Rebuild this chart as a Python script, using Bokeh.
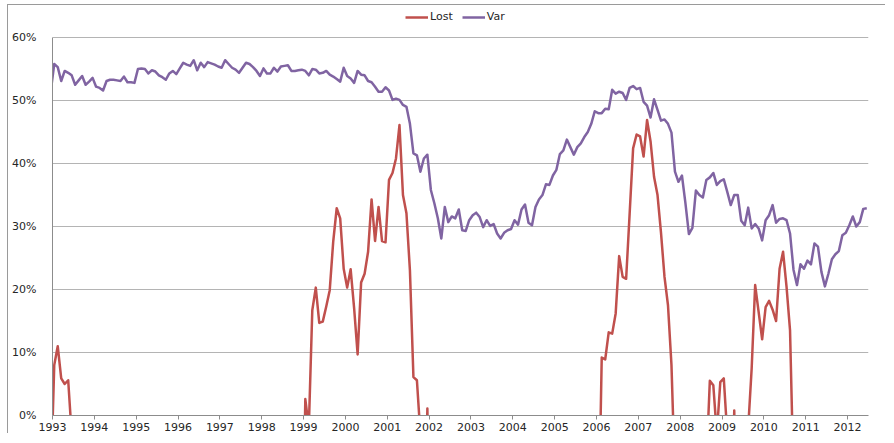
import pandas as pd
from bokeh.plotting import figure
from bokeh.models import (FixedTicker, PrintfTickFormatter, Legend, LegendItem,
                          ColumnDataSource, Range1d)
from bokeh.embed import file_html
from bokeh.resources import INLINE

nan = float("nan")

# monthly observations, Dec 1992 .. Jun 2012 (values in %)
months = pd.period_range("1992-12", "2012-06", freq="M")

var = [
    51.5,
    55.8, 55.3, 53.1, 54.7, 54.4, 54.0, 52.5, 53.2, 53.9, 52.5, 53.0, 53.6,   # 1993
    52.2, 52.0, 51.6, 53.1, 53.3, 53.3, 53.2, 53.1, 53.8, 52.9, 52.9, 52.8,   # 1994
    55.0, 55.1, 55.0, 54.3, 54.8, 54.6, 54.0, 53.7, 53.3, 54.3, 54.7, 54.2,   # 1995
    55.1, 56.0, 55.7, 55.5, 56.4, 54.8, 56.0, 55.3, 56.1, 55.9, 55.7, 55.4,   # 1996
    55.2, 56.4, 55.8, 55.2, 54.9, 54.4, 55.2, 56.0, 55.8, 55.3, 54.7, 53.9,   # 1997
    55.1, 54.3, 54.3, 55.2, 54.6, 55.4, 55.5, 55.6, 54.7, 54.7, 54.8, 54.9,   # 1998
    54.7, 54.0, 55.0, 54.9, 54.3, 54.4, 54.7, 54.1, 53.8, 53.4, 53.0, 55.2,   # 1999
    53.9, 53.5, 52.8, 54.7, 54.1, 54.0, 53.1, 52.9, 52.2, 51.4, 51.4, 52.1,   # 2000
    51.6, 50.1, 50.3, 50.1, 49.3, 49.0, 46.3, 41.6, 41.3, 38.7, 40.8, 41.4,   # 2001
    35.8, 33.7, 31.3, 28.1, 33.1, 30.7, 31.6, 31.3, 32.7, 29.4, 29.3, 31.0,   # 2002
    31.8, 32.2, 31.5, 29.9, 31.0, 30.1, 30.4, 28.9, 28.1, 29.0, 29.4, 29.6,   # 2003
    31.0, 30.3, 32.7, 33.5, 30.6, 30.2, 33.1, 34.3, 35.0, 36.7, 36.6, 38.1,   # 2004
    39.0, 41.5, 42.1, 43.8, 42.6, 41.4, 42.6, 43.2, 44.2, 45.0, 46.3, 48.3,   # 2005
    48.0, 48.0, 48.7, 48.6, 51.7, 51.1, 51.4, 51.2, 50.1, 52.0, 52.3, 51.8,   # 2006
    52.0, 49.8, 49.2, 47.3, 50.2, 48.5, 46.8, 47.0, 46.3, 44.9, 38.7, 37.1,   # 2007
    38.1, 33.7, 28.8, 29.8, 35.7, 35.0, 34.6, 37.4, 37.8, 38.5, 36.6, 37.2,   # 2008
    37.5, 35.5, 33.4, 35.0, 35.0, 30.9, 30.2, 33.0, 29.7, 30.4, 29.7, 27.8,   # 2009
    31.0, 31.8, 33.4, 30.6, 31.2, 31.3, 31.0, 28.9, 23.1, 20.7, 24.0, 23.3,   # 2010
    24.6, 24.0, 27.3, 26.8, 22.8, 20.5, 22.5, 24.8, 25.6, 26.1, 28.6, 29.0,   # 2011
    30.2, 31.6, 30.0, 30.7, 32.8, 32.9,                                       # 2012
]

# values below the axis minimum are not visible in the picture (nan = not readable)
lost = [
    -11.0,
    8.0, 11.0, 5.9, 5.0, 5.6, -3.0, nan, nan, nan, nan, nan, nan,             # 1993
    nan, nan, nan, nan, nan, nan, nan, nan, nan, nan, nan, nan,               # 1994
    nan, nan, nan, nan, nan, nan, nan, nan, nan, nan, nan, nan,               # 1995
    nan, nan, nan, nan, nan, nan, nan, nan, nan, nan, nan, nan,               # 1996
    nan, nan, nan, nan, nan, nan, nan, nan, nan, nan, nan, nan,               # 1997
    nan, nan, nan, nan, nan, nan, nan, nan, nan, nan, nan, -30.0,             # 1998
    2.6, -2.0, 16.7, 20.3, 14.7, 14.9, 17.3, 19.9, 27.6, 32.9, 31.3, 23.3,    # 1999
    20.3, 23.2, 17.0, 9.7, 21.1, 22.5, 26.0, 34.3, 27.7, 33.1, 27.7, 27.5,    # 2000
    37.4, 38.5, 40.8, 46.1, 35.0, 32.1, 23.0, 6.1, 5.6, -3.0, -30.0, 1.1,     # 2001
    -30.0, nan, nan, nan, nan, nan, nan, nan, nan, nan, nan, nan,             # 2002
    nan, nan, nan, nan, nan, nan, nan, nan, nan, nan, nan, nan,               # 2003
    nan, nan, nan, nan, nan, nan, nan, nan, nan, nan, nan, nan,               # 2004
    nan, nan, nan, nan, nan, nan, nan, nan, nan, nan, nan, nan,               # 2005
    -21.0, 9.2, 8.9, 13.2, 13.0, 16.2, 25.3, 22.0, 21.7, 32.0, 42.4, 44.6,    # 2006
    44.3, 41.1, 46.9, 43.5, 37.9, 35.0, 29.0, 22.0, 17.5, 8.0, -10.0, nan,    # 2007
    nan, nan, nan, nan, nan, nan, nan, -8.0, 5.5, 4.8, -3.0, 5.3,             # 2008
    5.9, -3.0, -30.0, 0.8, -30.0, nan, nan, -2.0, 7.5, 20.7, 16.4, 12.1,      # 2009
    17.2, 18.2, 16.8, 15.0, 23.3, 26.0, 20.4, 13.5, -10.0, nan, nan, nan,     # 2010
    nan, nan, nan, nan, nan, nan, nan, nan, nan, nan, nan, nan,               # 2011
    nan, nan, nan, nan, nan, nan,                                             # 2012
]

year_ticks = list(range(1993, 2013))
pct_ticks = [0, 10, 20, 30, 40, 50, 60]

assert len(var) == len(months) == len(lost)

x = [p.year + (p.month - 0.5) / 12.0 for p in months]
src = ColumnDataSource(dict(x=x, lost=lost, var=var))

FONT = "DejaVu Sans"
TXT = "#262626"
LOST_C = "#C0504D"
VAR_C = "#8064A2"

# the frame extends a little above 60% so that the legend row fits inside it;
# the axis line and grid stop at 60%.
p = figure(frame_width=816, frame_height=406,
           min_border_left=44, min_border_right=17,
           min_border_top=4, min_border_bottom=18,
           x_range=Range1d(1993, 2012.5), y_range=Range1d(0, 64.45),
           output_backend="svg", toolbar_location=None)
p.styles = {"border-top": "1px solid #9A9A9A", "border-left": "1px solid #9A9A9A",
            "margin-top": "4px", "margin-left": "7px"}
p.outline_line_color = None
p.background_fill_color = "white"
p.border_fill_color = "white"

r_lost = p.line("x", "lost", source=src, line_color=LOST_C, line_width=2.5,
                line_join="round")
r_var = p.line("x", "var", source=src, line_color=VAR_C, line_width=2.5,
               line_join="round")

# x axis
xa = p.xaxis[0]
xa.ticker = FixedTicker(ticks=year_ticks)
xa.axis_line_color = "#8C8C8C"
xa.major_tick_line_color = "#8C8C8C"
xa.major_tick_out = 4
xa.major_tick_in = 0
xa.minor_tick_line_color = None
xa.major_label_text_font = FONT
xa.major_label_text_font_size = "11px"
xa.major_label_text_color = TXT
xa.major_label_standoff = 3

# y axis
ya = p.yaxis[0]
ya.ticker = FixedTicker(ticks=pct_ticks)
ya.formatter = PrintfTickFormatter(format="%d%%")
ya.bounds = (min(pct_ticks), max(pct_ticks))
ya.axis_line_color = "#8C8C8C"
ya.major_tick_line_color = None
ya.major_tick_out = 0
ya.major_tick_in = 0
ya.minor_tick_line_color = None
ya.major_label_text_font = FONT
ya.major_label_text_font_size = "11px"
ya.major_label_text_color = TXT
ya.major_label_standoff = 16

p.xgrid.grid_line_color = None
p.ygrid.ticker = FixedTicker(ticks=pct_ticks)
p.ygrid.grid_line_color = "#B4B4B4"
p.ygrid.grid_line_width = 1

legend = Legend(items=[LegendItem(label="Lost", renderers=[r_lost]),
                       LegendItem(label="Var", renderers=[r_var])],
                orientation="horizontal", location=(353, 392),
                padding=0, margin=0, spacing=9, label_standoff=2,
                glyph_width=23, glyph_height=12, label_height=12,
                label_text_font=FONT, label_text_font_size="11px",
                label_text_color=TXT, border_line_color=None,
                background_fill_alpha=0)
p.add_layout(legend, "center")

open("out.html", "w").write(file_html(p, INLINE))
